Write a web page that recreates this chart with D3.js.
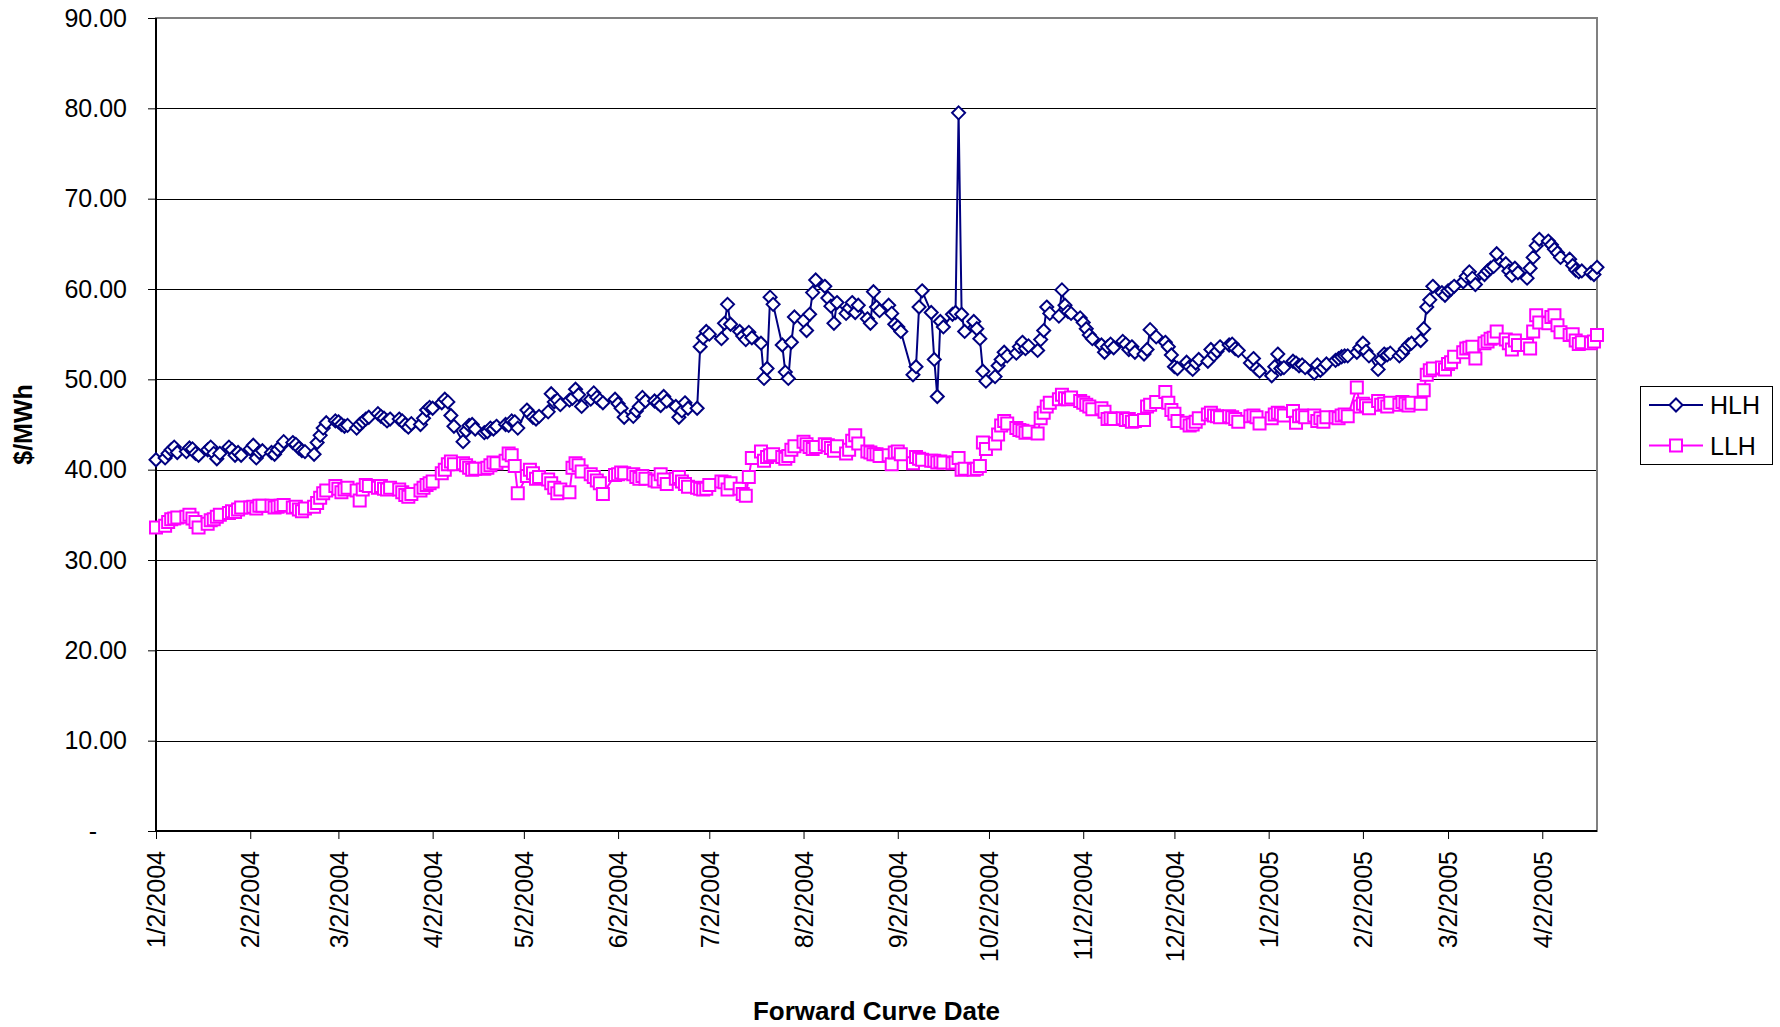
<!DOCTYPE html>
<html>
<head>
<meta charset="utf-8">
<script src="https://cdn.jsdelivr.net/npm/d3@7"></script>
<style>
  html, body { margin: 0; padding: 0; background: #fff; }
  svg { display: block; font-family: "Liberation Sans", Arial, sans-serif; }
</style>
</head>
<body>
<svg id="chart" width="1780" height="1027"></svg>
<script>
// Forward curve trading dates (business days)
const tradeDates = [
  // 2004-01
  "2004-01-02","2004-01-05","2004-01-06","2004-01-07","2004-01-08","2004-01-09","2004-01-12","2004-01-13","2004-01-14","2004-01-15","2004-01-16","2004-01-19","2004-01-20","2004-01-21","2004-01-22","2004-01-23","2004-01-26","2004-01-27","2004-01-28","2004-01-29","2004-01-30",
  // 2004-02
  "2004-02-02","2004-02-03","2004-02-04","2004-02-05","2004-02-06","2004-02-09","2004-02-10","2004-02-11","2004-02-12","2004-02-13","2004-02-16","2004-02-17","2004-02-18","2004-02-19","2004-02-20","2004-02-23","2004-02-24","2004-02-25","2004-02-26","2004-02-27",
  // 2004-03
  "2004-03-01","2004-03-02","2004-03-03","2004-03-04","2004-03-05","2004-03-08","2004-03-09","2004-03-10","2004-03-11","2004-03-12","2004-03-15","2004-03-16","2004-03-17","2004-03-18","2004-03-19","2004-03-22","2004-03-23","2004-03-24","2004-03-25","2004-03-26","2004-03-29","2004-03-30","2004-03-31",
  // 2004-04
  "2004-04-01","2004-04-02","2004-04-05","2004-04-06","2004-04-07","2004-04-08","2004-04-09","2004-04-12","2004-04-13","2004-04-14","2004-04-15","2004-04-16","2004-04-19","2004-04-20","2004-04-21","2004-04-22","2004-04-23","2004-04-26","2004-04-27","2004-04-28","2004-04-29","2004-04-30",
  // 2004-05
  "2004-05-03","2004-05-04","2004-05-05","2004-05-06","2004-05-07","2004-05-10","2004-05-11","2004-05-12","2004-05-13","2004-05-14","2004-05-17","2004-05-18","2004-05-19","2004-05-20","2004-05-21","2004-05-24","2004-05-25","2004-05-26","2004-05-27","2004-05-28",
  // 2004-06
  "2004-06-01","2004-06-02","2004-06-03","2004-06-04","2004-06-07","2004-06-08","2004-06-09","2004-06-10","2004-06-11","2004-06-14","2004-06-15","2004-06-16","2004-06-17","2004-06-18","2004-06-21","2004-06-22","2004-06-23","2004-06-24","2004-06-25","2004-06-28","2004-06-29","2004-06-30",
  // 2004-07
  "2004-07-01","2004-07-02","2004-07-06","2004-07-07","2004-07-08","2004-07-09","2004-07-12","2004-07-13","2004-07-14","2004-07-15","2004-07-16","2004-07-19","2004-07-20","2004-07-21","2004-07-22","2004-07-23","2004-07-26","2004-07-27","2004-07-28","2004-07-29","2004-07-30",
  // 2004-08
  "2004-08-02","2004-08-03","2004-08-04","2004-08-05","2004-08-06","2004-08-09","2004-08-10","2004-08-11","2004-08-12","2004-08-13","2004-08-16","2004-08-17","2004-08-18","2004-08-19","2004-08-20","2004-08-23","2004-08-24","2004-08-25","2004-08-26","2004-08-27","2004-08-30","2004-08-31",
  // 2004-09
  "2004-09-01","2004-09-02","2004-09-03","2004-09-07","2004-09-08","2004-09-09","2004-09-10","2004-09-13","2004-09-14","2004-09-15","2004-09-16","2004-09-17","2004-09-20","2004-09-21","2004-09-22","2004-09-23","2004-09-24","2004-09-27","2004-09-28","2004-09-29","2004-09-30",
  // 2004-10
  "2004-10-01","2004-10-04","2004-10-05","2004-10-06","2004-10-07","2004-10-08","2004-10-11","2004-10-12","2004-10-13","2004-10-14","2004-10-15","2004-10-18","2004-10-19","2004-10-20","2004-10-21","2004-10-22","2004-10-25","2004-10-26","2004-10-27","2004-10-28","2004-10-29",
  // 2004-11
  "2004-11-01","2004-11-02","2004-11-03","2004-11-04","2004-11-05","2004-11-08","2004-11-09","2004-11-10","2004-11-11","2004-11-12","2004-11-15","2004-11-16","2004-11-17","2004-11-18","2004-11-19","2004-11-22","2004-11-23","2004-11-24","2004-11-26","2004-11-29","2004-11-30",
  // 2004-12
  "2004-12-01","2004-12-02","2004-12-03","2004-12-06","2004-12-07","2004-12-08","2004-12-09","2004-12-10","2004-12-13","2004-12-14","2004-12-15","2004-12-16","2004-12-17","2004-12-20","2004-12-21","2004-12-22","2004-12-23","2004-12-27","2004-12-28","2004-12-29","2004-12-30",
  // 2005-01
  "2005-01-03","2005-01-04","2005-01-05","2005-01-06","2005-01-07","2005-01-10","2005-01-11","2005-01-12","2005-01-13","2005-01-14","2005-01-17","2005-01-18","2005-01-19","2005-01-20","2005-01-21","2005-01-24","2005-01-25","2005-01-26","2005-01-27","2005-01-28","2005-01-31",
  // 2005-02
  "2005-02-01","2005-02-02","2005-02-03","2005-02-04","2005-02-07","2005-02-08","2005-02-09","2005-02-10","2005-02-11","2005-02-14","2005-02-15","2005-02-16","2005-02-17","2005-02-18","2005-02-21","2005-02-22","2005-02-23","2005-02-24","2005-02-25","2005-02-28",
  // 2005-03
  "2005-03-01","2005-03-02","2005-03-03","2005-03-04","2005-03-07","2005-03-08","2005-03-09","2005-03-10","2005-03-11","2005-03-14","2005-03-15","2005-03-16","2005-03-17","2005-03-18","2005-03-21","2005-03-22","2005-03-23","2005-03-24","2005-03-25","2005-03-28","2005-03-29","2005-03-30","2005-03-31",
  // 2005-04
  "2005-04-01","2005-04-04","2005-04-05","2005-04-06","2005-04-07","2005-04-08","2005-04-11","2005-04-12","2005-04-13","2005-04-14","2005-04-15","2005-04-18","2005-04-19","2005-04-20"
];

// Heavy-load-hour prices, $/MWh
const hlh = [
  41.1,41.3,41.8,42.2,42.5,41.9,42.0,42.4,42.3,41.8,41.6,42.2,42.5,41.8,41.2,41.8,42.5,42.2,41.6,41.9,41.6,
  42.3,42.7,41.3,41.9,42.1,41.9,41.7,42.2,42.6,43.1,43.0,42.8,42.4,42.1,42.0,41.7,43.0,43.8,44.6,45.2,
  45.4,45.3,45.0,44.8,44.9,44.6,45.0,45.3,45.6,45.8,46.2,45.9,45.7,45.4,45.6,45.6,45.4,45.0,44.7,45.1,45.0,45.7,46.6,
  46.9,46.8,47.4,47.8,47.5,46.0,44.8,43.1,44.3,44.9,45.0,44.5,44.1,44.2,44.6,44.5,44.8,45.0,44.9,45.4,45.3,44.6,
  46.6,46.2,45.8,45.6,45.9,46.4,48.4,47.5,47.7,47.2,47.7,47.9,48.9,48.3,47.0,47.8,48.5,48.0,47.7,47.4,
  47.8,47.3,46.8,45.8,45.9,46.5,47.0,48.0,47.6,47.6,47.4,47.1,48.1,47.6,47.0,45.8,46.5,47.4,46.8,46.8,53.6,54.6,
  55.3,55.0,54.5,56.2,58.3,56.1,55.3,54.8,54.4,55.2,54.6,54.0,50.1,51.2,59.1,58.3,53.8,50.8,50.1,54.1,56.9,
  56.5,55.4,57.2,59.6,61.0,60.3,59.0,58.1,56.2,58.5,57.3,57.9,58.5,57.4,58.2,56.7,56.2,59.7,58.0,57.6,58.2,57.3,
  56.1,55.8,55.3,50.5,51.4,58.0,59.8,57.4,52.2,48.1,56.4,55.8,57.2,57.4,79.5,57.2,55.3,56.4,55.6,54.5,50.9,
  49.8,50.3,51.5,52.2,53.0,52.6,52.9,53.6,54.1,53.4,53.7,53.2,54.4,55.4,58.0,57.3,57.0,59.9,58.2,57.5,57.3,
  56.8,56.3,55.6,54.9,54.5,53.8,53.0,53.6,53.9,53.5,54.2,53.9,53.3,53.6,53.0,52.8,53.3,55.5,54.7,54.1,53.6,
  52.7,51.4,51.2,51.9,51.4,51.1,51.8,52.2,52.0,53.3,52.7,53.1,53.6,53.8,53.9,53.4,53.2,51.8,52.3,51.2,50.9,
  50.4,51.4,52.8,51.2,51.3,52.0,51.8,51.5,51.6,51.3,50.7,51.6,51.0,51.3,51.7,52.1,52.3,52.5,52.6,52.6,53.0,
  53.5,54.0,53.1,52.6,51.1,52.2,52.8,52.7,52.9,52.6,52.9,53.4,53.8,54.0,54.3,55.6,58.0,58.8,60.3,59.6,
  59.3,59.8,60.0,60.3,60.8,61.4,61.9,61.2,60.5,61.6,62.0,62.3,62.5,63.9,62.8,62.0,61.5,62.3,61.8,61.2,62.3,63.5,64.8,
  65.5,65.3,64.9,64.4,64.0,63.5,63.3,62.6,62.1,61.9,62.0,61.8,61.6,62.4
];

// Light-load-hour prices, $/MWh
const llh = [
  33.6,33.8,34.2,34.5,34.6,34.7,34.8,35.0,34.6,34.2,33.6,34.0,34.4,34.5,34.8,35.0,35.2,35.4,35.3,35.6,35.8,
  35.8,35.9,35.7,36.0,36.0,36.0,35.8,35.9,36.0,36.1,35.8,35.9,35.6,35.4,35.7,35.9,36.3,36.9,37.4,37.7,
  38.2,37.9,37.5,37.8,38.0,37.7,36.6,37.8,38.3,38.2,38.0,38.2,37.9,37.8,38.0,37.8,37.5,37.2,37.0,37.3,37.7,38.0,38.3,
  38.5,38.7,39.6,40.0,40.6,40.9,40.6,40.7,40.5,40.2,40.0,40.1,40.1,40.2,40.5,40.8,40.7,41.0,41.8,41.6,40.4,37.4,
  39.3,40.0,39.6,39.0,39.2,38.9,38.5,38.0,37.4,37.8,37.5,40.2,40.7,40.5,39.8,39.5,39.2,38.8,38.5,37.3,
  39.4,39.5,39.7,39.6,39.5,39.2,39.0,39.3,39.0,38.8,38.7,39.5,38.9,38.4,39.0,39.2,38.7,38.4,38.1,38.0,37.9,37.8,
  37.9,38.3,38.7,38.6,37.8,38.5,37.9,37.3,37.1,39.2,41.3,42.0,41.0,41.4,41.6,41.7,41.4,41.2,41.5,42.2,42.6,
  43.1,42.8,42.5,42.3,42.5,42.8,42.7,42.4,42.1,42.6,41.8,42.2,43.2,43.8,42.9,42.0,41.9,41.7,41.7,41.5,41.6,40.6,
  41.9,42.0,41.7,40.7,41.4,41.2,41.1,41.0,41.0,40.8,40.9,40.8,40.7,40.8,41.3,40.0,40.1,40.0,40.1,40.4,43.0,
  42.3,42.9,43.9,44.9,45.4,45.1,44.6,44.4,44.3,44.1,44.2,44.0,45.7,46.3,47.0,47.4,47.8,48.3,47.9,47.8,48.0,
  47.6,47.4,47.2,47.0,46.7,46.8,46.4,45.6,45.7,45.6,45.7,45.5,45.6,45.3,45.4,45.5,47.0,47.2,47.5,48.6,47.4,
  46.6,46.2,45.4,45.2,44.9,45.0,45.3,45.7,46.1,46.3,46.0,45.9,45.8,45.9,45.8,45.6,45.3,45.9,46.0,45.8,45.1,
  45.7,46.1,46.3,46.2,46.0,46.5,45.2,45.9,46.0,45.8,46.0,45.4,45.7,45.3,45.8,45.8,45.7,46.0,46.1,45.9,49.1,
  47.0,47.3,47.1,46.8,47.6,47.2,47.3,47.0,47.4,47.2,47.5,47.3,47.1,47.4,47.3,48.8,50.5,51.0,51.2,51.3,
  51.1,51.7,51.9,52.5,53.0,53.4,53.5,53.6,52.3,54.0,54.2,54.5,54.6,55.3,54.4,54.0,53.3,54.3,53.8,53.8,53.4,55.3,57.1,
  56.3,56.2,56.9,57.1,56.0,55.2,54.9,55.0,54.3,53.9,54.1,54.0,54.2,54.9
];

const seriesNames = ["HLH", "LLH"];
const seriesColors = ["#000080", "#FF00FF"];
const yTickValues = [0, 10, 20, 30, 40, 50, 60, 70, 80, 90];
const xTickLabels = ["1/2/2004","2/2/2004","3/2/2004","4/2/2004","5/2/2004","6/2/2004","7/2/2004","8/2/2004",
                     "9/2/2004","10/2/2004","11/2/2004","12/2/2004","1/2/2005","2/2/2005","3/2/2005","4/2/2005"];

const parseIso = d3.timeParse("%Y-%m-%d");
const parseUs = d3.timeParse("%m/%d/%Y");
const dates = tradeDates.map(parseIso);
const xTicks = xTickLabels.map(parseUs);

const plot = { left: 156, right: 1597, top: 18, bottom: 831 };
const svg = d3.select("#chart");
svg.append("rect").attr("width", 1780).attr("height", 1027).attr("fill", "#fff");

const x = d3.scaleTime().domain([dates[0], dates[dates.length - 1]]).range([plot.left, plot.right]);
const y = d3.scaleLinear().domain([0, 90]).range([plot.bottom, plot.top]);

// horizontal gridlines
svg.append("g").selectAll("line")
  .data(yTickValues.filter(v => v > 0 && v < 90))
  .join("line")
  .attr("x1", plot.left).attr("x2", plot.right)
  .attr("y1", d => Math.round(y(d)) + 0.5).attr("y2", d => Math.round(y(d)) + 0.5)
  .attr("stroke", "#000").attr("stroke-width", 1);

// plot-area frame
svg.append("rect")
  .attr("x", plot.left).attr("y", plot.top)
  .attr("width", plot.right - plot.left).attr("height", plot.bottom - plot.top)
  .attr("fill", "none").attr("stroke", "#808080").attr("stroke-width", 2);

// y axis
const yAxis = d3.axisLeft(y).tickValues(yTickValues).tickSize(8).tickPadding(21)
  .tickFormat(v => v === 0 ? "-" : d3.format(".2f")(v));
const gy = svg.append("g").attr("transform", `translate(${plot.left},0)`).call(yAxis);
gy.select(".domain").remove();
gy.selectAll(".tick line").attr("stroke", "#000");
gy.selectAll(".tick text")
  .attr("font-size", 25).attr("fill", "#000")
  .attr("font-family", "'Liberation Sans', Arial, sans-serif")
  .attr("dx", d => d === 0 ? -30 : 0);

// x axis
const xAxis = d3.axisBottom(x).tickValues(xTicks).tickSize(8).tickFormat((d, i) => xTickLabels[i]);
const gx = svg.append("g").attr("transform", `translate(0,${plot.bottom})`).call(xAxis);
gx.select(".domain").remove();
gx.selectAll(".tick line").attr("stroke", "#000");
gx.selectAll(".tick text")
  .attr("font-size", 25).attr("fill", "#000")
  .attr("font-family", "'Liberation Sans', Arial, sans-serif")
  .attr("text-anchor", "end")
  .attr("transform", "rotate(-90)")
  .attr("x", -20).attr("y", 0).attr("dy", "0.35em");

// axis lines
svg.append("line").attr("x1", plot.left).attr("x2", plot.left)
  .attr("y1", plot.top).attr("y2", plot.bottom).attr("stroke", "#000").attr("stroke-width", 2);
svg.append("line").attr("x1", plot.left).attr("x2", plot.right)
  .attr("y1", plot.bottom).attr("y2", plot.bottom).attr("stroke", "#000").attr("stroke-width", 2);

// marker shapes
const diamondPath = r => `M0,${-r}L${r},0L0,${r}L${-r},0Z`;
const squarePath = r => `M${-r},${-r}H${r}V${r}H${-r}Z`;
const markerPaths = [diamondPath(6.5), squarePath(6)];

const seriesValues = [hlh, llh];
const n = Math.min(dates.length, hlh.length, llh.length);

seriesValues.forEach((vals, si) => {
  const pts = d3.range(n).map(i => ({ date: dates[i], value: vals[i] }));
  const line = d3.line().x(d => x(d.date)).y(d => y(d.value));
  const g = svg.append("g");
  g.append("path").datum(pts).attr("d", line)
    .attr("fill", "none").attr("stroke", seriesColors[si]).attr("stroke-width", 2)
    .attr("stroke-linejoin", "round");
  g.selectAll("path.mk").data(pts).join("path").attr("class", "mk")
    .attr("d", markerPaths[si])
    .attr("transform", d => `translate(${x(d.date)},${y(d.value)})`)
    .attr("fill", "#fff").attr("stroke", seriesColors[si]).attr("stroke-width", 2);
});

// axis titles
svg.append("text")
  .attr("transform", `translate(32,${(plot.top + plot.bottom) / 2}) rotate(-90)`)
  .attr("text-anchor", "middle").attr("font-size", 25).attr("font-weight", "bold")
  .text("$/MWh");
svg.append("text")
  .attr("x", (plot.left + plot.right) / 2).attr("y", 1020)
  .attr("text-anchor", "middle").attr("font-size", 26).attr("font-weight", "bold")
  .text("Forward Curve Date");

// legend
const legend = svg.append("g");
legend.append("rect").attr("x", 1640.5).attr("y", 386.5).attr("width", 132).attr("height", 78)
  .attr("fill", "#fff").attr("stroke", "#000").attr("stroke-width", 1);
seriesNames.forEach((name, i) => {
  const cy = 405 + i * 40.5;
  legend.append("line").attr("x1", 1649).attr("x2", 1703).attr("y1", cy).attr("y2", cy)
    .attr("stroke", seriesColors[i]).attr("stroke-width", 2);
  legend.append("path").attr("d", markerPaths[i]).attr("transform", `translate(1676,${cy})`)
    .attr("fill", "#fff").attr("stroke", seriesColors[i]).attr("stroke-width", 2);
  legend.append("text").attr("x", 1710).attr("y", cy).attr("dy", "0.36em")
    .attr("font-size", 25).attr("fill", "#000").text(name);
});
</script>
</body>
</html>
